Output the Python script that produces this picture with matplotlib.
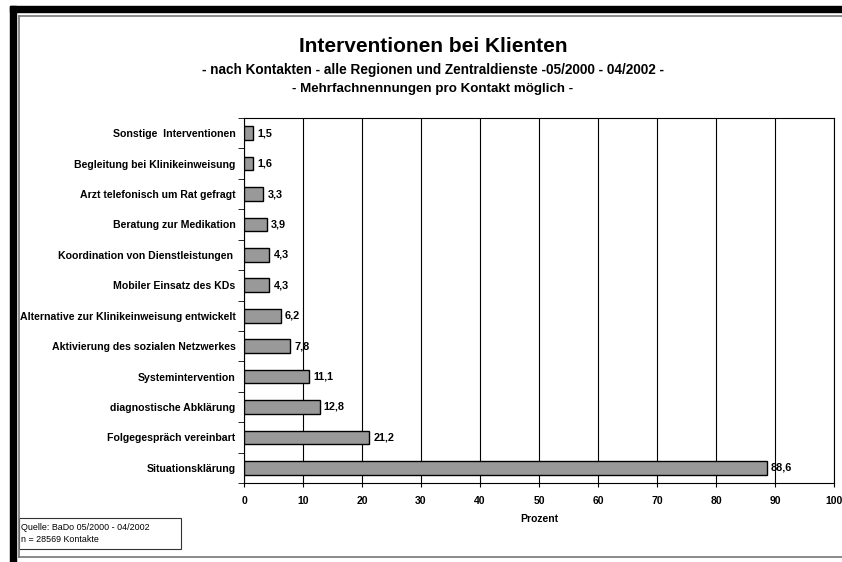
import matplotlib.pyplot as plt
from matplotlib.patches import Rectangle
from matplotlib.lines import Line2D

plt.rcParams['font.family'] = ['Liberation Sans', 'DejaVu Sans']

# data, top to bottom as in the chart
categories = ['Sonstige  Interventionen', 'Begleitung bei Klinikeinweisung',
              'Arzt telefonisch um Rat gefragt', 'Beratung zur Medikation',
              'Koordination von Dienstleistungen ', 'Mobiler Einsatz des KDs',
              'Alternative zur Klinikeinweisung entwickelt',
              'Aktivierung des sozialen Netzwerkes', 'Systemintervention',
              'diagnostische Abklärung', 'Folgegespräch vereinbart',
              'Situationsklärung']
values = [1.5, 1.6, 3.3, 3.9, 4.3, 4.3, 6.2, 7.8, 11.1, 12.8, 21.2, 88.6]
x_ticks = [0, 10, 20, 30, 40, 50, 60, 70, 80, 90, 100]

W, H = 842, 562
fig = plt.figure(figsize=(W / 100, H / 100), dpi=100)

def fx(px):
    return px / W

def fy(py):
    return 1 - py / H

# black frame top and left
fig.patches.append(Rectangle((fx(10), fy(12)), 1 - fx(10), fy(6) - fy(12),
                             transform=fig.transFigure, color='black', zorder=0))
fig.patches.append(Rectangle((fx(10), 0), fx(16) - fx(10), fy(6),
                             transform=fig.transFigure, color='black', zorder=0))
# thin inner frame
for xs, ys in [([fx(19), fx(19)], [fy(16), fy(557)]),
               ([fx(19), 1], [fy(16), fy(16)]),
               ([fx(19), 1], [fy(557), fy(557)])]:
    fig.lines.append(Line2D(xs, ys, transform=fig.transFigure, color='#777777', lw=1.2))

ax = fig.add_axes([fx(244), fy(483), fx(834) - fx(244), fy(118) - fy(483)])

n = len(categories)
ypos = list(range(n))[::-1]
ax.barh(ypos, values, height=0.45, color='#999999', edgecolor='black', linewidth=1.0, zorder=3)
for y, v in zip(ypos, values):
    ax.text(v + 0.7, y, f'{v:.1f}'.replace('.', ','), va='center', ha='left',
            fontsize=7.8, fontweight='bold', zorder=4)

ax.set_xlim(0, 100)
ax.set_ylim(-0.5, n - 0.5)
ax.set_xticks(x_ticks)
ax.set_xticklabels([str(t) for t in x_ticks], fontsize=7.5, fontweight='bold')
ax.set_yticks(ypos)
ax.set_yticklabels(categories, fontsize=7.6, fontweight='bold')
ax.set_yticks([i - 0.5 for i in range(n + 1)], minor=True)
ax.tick_params(axis='y', which='major', length=0, pad=6)
ax.tick_params(axis='y', which='minor', length=4, direction='out')
ax.tick_params(axis='x', length=3, pad=6)
ax.grid(axis='x', color='black', lw=0.8, zorder=0)
for s in ax.spines.values():
    s.set_linewidth(0.8)
ax.set_xlabel('Prozent', fontsize=7.5, fontweight='bold', labelpad=6)

cx = fx(433)
fig.text(cx, fy(47), 'Interventionen bei Klienten', ha='center', va='center',
         fontsize=15, fontweight='bold')
fig.text(cx, fy(70), '- nach Kontakten - alle Regionen und Zentraldienste -05/2000 - 04/2002 -',
         ha='center', va='center', fontsize=9.8, fontweight='bold')
fig.text(cx, fy(89), '- Mehrfachnennungen pro Kontakt möglich -',
         ha='center', va='center', fontsize=9.6, fontweight='bold')

# source box
fig.patches.append(Rectangle((fx(19), fy(549)), fx(181) - fx(19), fy(518) - fy(549),
                             transform=fig.transFigure, facecolor='white',
                             edgecolor='#333333', lw=0.8))
fig.text(fx(21), fy(527), 'Quelle: BaDo 05/2000 - 04/2002', fontsize=6.4, va='center')
fig.text(fx(21), fy(540), 'n = 28569 Kontakte', fontsize=6.4, va='center')

fig.savefig('out.png', dpi=100)
